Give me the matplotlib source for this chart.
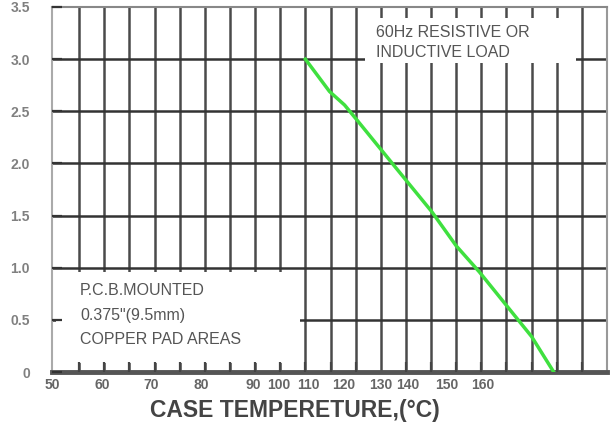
import numpy as np
import matplotlib.pyplot as plt
from matplotlib.patches import Rectangle

# derating curve: case temperature (C) vs average forward current (A)
temp = [100, 104.8, 107.8, 110.2, 117.8, 125.1, 130, 134.6, 145, 149.4]
current = [3.0, 2.69, 2.56, 2.42, 1.97, 1.54, 1.21, 0.96, 0.34, 0.0]

xtick_labels = ['50', '60', '70', '80', '90', '100', '110', '120', '130', '140', '150', '160']
xtick_pos = [49.6, 59.5, 69.4, 79.2, 89.7, 94.7, 100.6, 107.7, 115.0, 120.4, 128.1, 135.2]
ytick_labels = ['0', '0.5', '1.0', '1.5', '2.0', '2.5', '3.0', '3.5']

note_left = ['P.C.B.MOUNTED', '0.375"(9.5mm)', 'COPPER PAD AREAS']
note_right = ['60Hz RESISTIVE OR', 'INDUCTIVE LOAD']

plt.rcParams['font.family'] = ['Liberation Sans', 'DejaVu Sans']

fig = plt.figure(figsize=(6.1, 4.33), dpi=100)
ax = fig.add_axes([52 / 610, 61 / 433, 555 / 610, 365 / 433])
ax.set_xlim(50, 160)
ax.set_ylim(0, 3.5)

# grid drawn by hand so the white note boxes can sit on top of it
for x in np.arange(55, 160, 5):
    ax.axvline(x, color='#4a4a4a', lw=1.8, zorder=1)
for y in np.arange(0.5, 3.5, 0.5):
    ax.axhline(y, color='#333333', lw=1.8, zorder=1)

ax.add_patch(Rectangle((50.3, 0.09), 48.6, 0.87, facecolor='white', edgecolor='none', zorder=2))
ax.add_patch(Rectangle((111.9, 2.96), 41.9, 0.43, facecolor='white', edgecolor='none', zorder=2))

ax.plot(temp, current, color='#3fe03f', lw=2.5, zorder=4)

for i, s in enumerate(note_left):
    ax.text(0.0505, 0.222 - i * 0.067, s, transform=ax.transAxes, fontsize=11.5,
            color='#555555', va='center', zorder=5)
for i, s in enumerate(note_right):
    ax.text(0.584, 0.929 - i * 0.055, s, transform=ax.transAxes, fontsize=11.5,
            color='#555555', va='center', zorder=5)

ax.set_xticks(xtick_pos)
ax.set_xticklabels(xtick_labels, fontsize=10, fontweight='bold', color='#666666')
ax.set_xticks(np.arange(55, 160, 5), minor=True)
ax.tick_params(axis='x', which='major', length=0, pad=4)
ax.tick_params(axis='x', which='minor', direction='in', length=7, width=1.6, color='#444444')

ax.set_yticks(np.arange(0, 3.51, 0.5))
ax.set_yticklabels(ytick_labels, fontsize=10, fontweight='bold', color='#808080')
ax.tick_params(axis='y', direction='in', length=7, width=1.6, color='#333333', pad=16)
ax.set_axisbelow(False)

ax.spines['left'].set_color('#aaaaaa')
ax.spines['left'].set_linewidth(1.5)
ax.spines['top'].set_color('#888888')
ax.spines['top'].set_linewidth(1.5)
ax.spines['right'].set_color('#999999')
ax.spines['right'].set_linewidth(1.5)
ax.spines['bottom'].set_color('#555555')
ax.spines['bottom'].set_linewidth(3.5)

fig.text(295 / 610, 1 - 410 / 433, 'CASE TEMPERETURE,(\u00b0C)', fontsize=16.5, fontweight='bold',
         color='#444444', ha='center', va='center')

fig.savefig('out.png', dpi=100)
